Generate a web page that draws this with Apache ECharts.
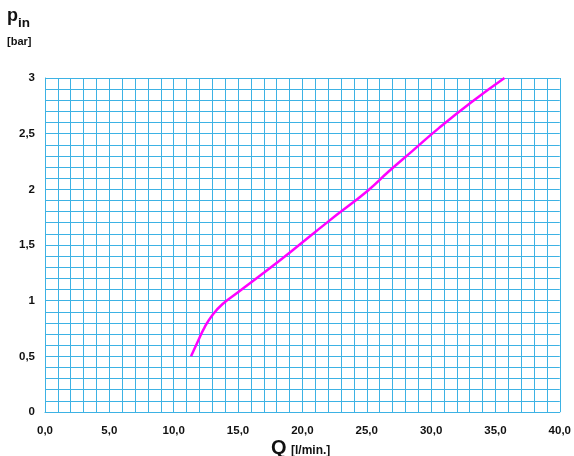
<!DOCTYPE html>
<html>
<head>
<meta charset="utf-8">
<script src="https://cdn.jsdelivr.net/npm/echarts@6/dist/echarts.min.js"></script>
<style>
  html, body { margin: 0; padding: 0; background: #fff; }
  #chart { width: 574px; height: 456px; }
</style>
</head>
<body>
<div id="chart"></div>
<script>
// Q [l/min.] gegen p_in [bar]
const flowQ = [11.35, 11.9, 12.4, 13.0, 13.8, 15.0, 17.0, 19.1, 22.0, 25.1, 26.7, 28.6, 30.6, 33.1, 35.7];
const pressureIn = [0.5, 0.64, 0.76, 0.87, 0.97, 1.075, 1.25, 1.44, 1.71, 1.99, 2.16, 2.35, 2.55, 2.78, 3.0];

const gridColor = '#3db2e4';
const fontFam = 'Liberation Sans, Arial, sans-serif';
const labelFont = { color: '#111', fontSize: 11.5, fontWeight: 'bold', fontFamily: fontFam };

const chart = echarts.init(document.getElementById('chart'));

const option = {
  animation: false,
  grid: { left: 45, right: 12, top: 78, bottom: 44 },
  xAxis: {
    type: 'value',
    min: 0,
    max: 40,
    interval: 1,
    axisLine: { show: true, lineStyle: { color: gridColor, width: 1 } },
    axisTick: { show: false },
    splitLine: { show: true, lineStyle: { color: gridColor, width: 1 } },
    axisLabel: Object.assign({
      margin: 13,
      showMinLabel: true,
      showMaxLabel: true,
      formatter: v => (Math.round(v) % 5 === 0 ? v.toFixed(1).replace('.', ',') : '')
    }, labelFont)
  },
  yAxis: {
    type: 'value',
    min: 0,
    max: 3,
    interval: 0.1,
    axisLine: { show: true, lineStyle: { color: gridColor, width: 1 } },
    axisTick: { show: false },
    splitLine: { show: true, lineStyle: { color: gridColor, width: 1 } },
    axisLabel: Object.assign({
      margin: 10,
      formatter: v => {
        const d = v * 2;
        if (Math.abs(d - Math.round(d)) > 1e-6) return '';
        return String(Math.round(d) / 2).replace('.', ',');
      }
    }, labelFont)
  },
  graphic: [
    { type: 'text', left: 7, top: 7, style: { text: 'p', fontSize: 18, fontWeight: 'bold', fontFamily: fontFam, fill: '#111' } },
    { type: 'text', left: 18, top: 16, style: { text: 'in', fontSize: 13.5, fontWeight: 'bold', fontFamily: fontFam, fill: '#111' } },
    { type: 'text', left: 7, top: 36.5, style: { text: '[bar]', fontSize: 11, fontWeight: 'bold', fontFamily: fontFam, fill: '#111' } },
    { type: 'text', left: 271, top: 438.5, style: { text: 'Q', fontSize: 20, fontWeight: 'bold', fontFamily: fontFam, fill: '#111' } },
    { type: 'text', left: 291, top: 445, style: { text: '[l/min.]', fontSize: 12, fontWeight: 'bold', fontFamily: fontFam, fill: '#111' } }
  ],
  series: [{
    type: 'line',
    data: flowQ.map((q, i) => [q, pressureIn[i]]),
    smooth: 0.5,
    symbol: 'none',
    lineStyle: { color: '#ff00ff', width: 2.5 }
  }]
};

chart.setOption(option);
</script>
</body>
</html>
